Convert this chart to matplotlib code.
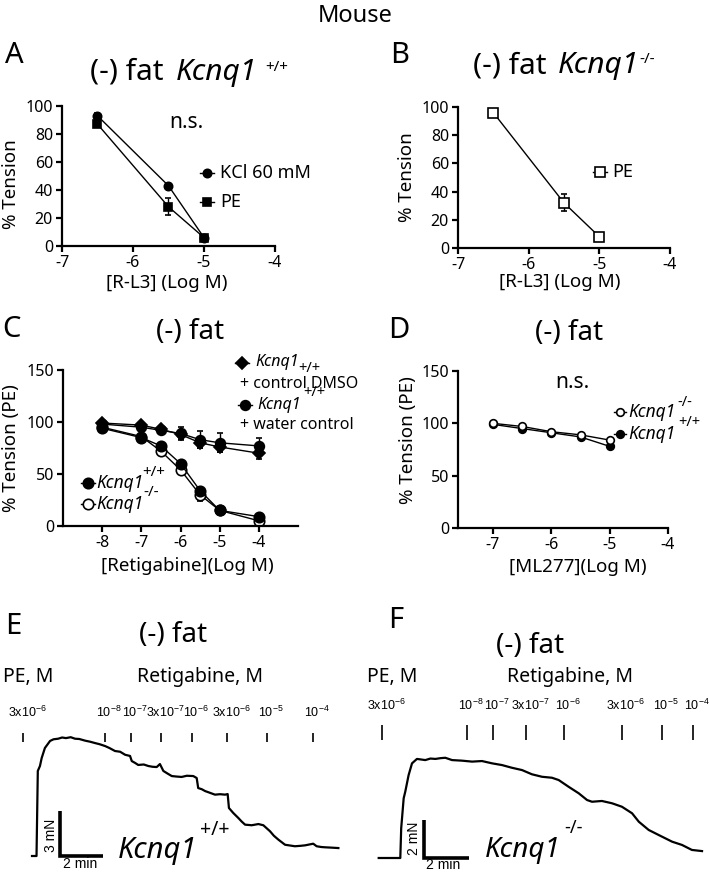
import matplotlib
matplotlib.use("Agg")
import matplotlib.pyplot as plt
from matplotlib.lines import Line2D

W, H = 709, 877

# --- dose response data (% tension) ---
rl3_x = [-6.5, -5.5, -5.0]
a_kcl = [93, 43, 6]
a_kcl_err = [2, 2, 1]
a_pe = [87, 28, 6]
a_pe_err = [2, 6, 1]
b_pe = [96, 32, 8]
b_pe_err = [1, 6, 1]

ret_x = [-8, -7, -6.5, -6, -5.5, -5, -4]
c_dmso = [99, 97, 93, 88, 80, 76, 70]
c_dmso_err = [2, 2, 3, 4, 5, 5, 6]
c_water = [98, 95, 92, 89, 83, 80, 77]
c_water_err = [2, 3, 3, 6, 8, 9, 8]
c_wt = [94, 85, 77, 60, 34, 15, 9]
c_wt_err = [1, 2, 2, 2, 3, 2, 2]
c_ko = [95, 86, 72, 54, 30, 15, 5]
c_ko_err = [1, 2, 2, 3, 6, 2, 2]

ml_x = [-7, -6.5, -6, -5.5, -5]
d_ko = [100, 97, 92, 89, 84]
d_wt = [99, 95, 91, 87, 78]

# --- force traces (min, mN) ---
e_t = [0, 0.21, 0.27, 0.37, 0.45, 0.6, 0.84, 1.0, 1.22, 1.4, 1.58, 1.8, 2.0, 2.2, 2.47, 2.7,
       2.93, 3.15, 3.4, 3.6, 3.86, 4.1, 4.33, 4.56, 4.64, 4.8, 4.94, 5.2, 5.41, 5.6, 5.8, 5.95,
       6.11, 6.3, 6.5, 6.7, 6.96, 7.2, 7.5, 7.66, 7.73, 7.9, 8.05, 8.3, 8.51, 8.75, 8.98, 9.1,
       9.16, 9.36, 9.6, 9.75, 9.91, 10.22, 10.53, 10.76, 11.07, 11.25, 11.46, 11.77, 12.0,
       12.23, 12.5, 12.7, 13.08, 13.24, 13.45, 13.63, 13.9, 14.25]
e_f = [0, 0, 5.67, 6.0, 6.53, 7.2, 7.67, 7.78, 7.82, 7.9, 7.86, 7.92, 7.82, 7.8, 7.69, 7.62,
       7.53, 7.45, 7.33, 7.2, 7.0, 6.95, 6.75, 6.67, 6.33, 6.2, 6.07, 6.1, 6.0, 5.95, 5.93, 6.13,
       5.67, 5.5, 5.33, 5.3, 5.27, 5.35, 5.33, 5.2, 4.53, 4.45, 4.33, 4.2, 4.09, 4.12, 4.09, 4.13,
       3.2, 2.87, 2.53, 2.3, 2.09, 2.05, 2.13, 2.05, 1.65, 1.35, 1.09, 0.75, 0.7,
       0.65, 0.68, 0.71, 0.82, 0.65, 0.6, 0.58, 0.56, 0.53]
f_t = [0, 0.96, 1.0, 1.11, 1.18, 1.33, 1.48, 1.7, 2.07, 2.3, 2.52, 2.75, 2.96, 3.26, 3.7,
       4.15, 4.59, 5.04, 5.48, 5.92, 6.37, 6.81, 7.26, 7.7, 8.0, 8.44, 8.89, 9.26, 9.48, 9.92,
       10.37, 10.81, 11.26, 11.56, 12.0, 12.44, 13.04, 13.48, 13.92, 14.37]
f_f = [0, 0, 1.55, 3.11, 3.45, 4.32, 4.93, 5.16, 5.1, 5.18, 5.16, 5.2, 5.22, 5.1, 5.07,
       5.02, 5.05, 4.93, 4.84, 4.7, 4.58, 4.36, 4.23, 4.18, 4.06, 3.71, 3.37, 3.02, 2.93, 2.97,
       2.85, 2.67, 2.33, 1.89, 1.46, 1.2, 0.85, 0.68, 0.42, 0.36]

e_events = [-0.42, 3.40, 4.60, 6.00, 7.43, 9.07, 10.94, 13.06]
f_events = [0.15, 3.92, 5.08, 6.55, 8.24, 10.81, 12.59, 13.97]
event_labels = [r"3x10$^{\mathregular{-6}}$", r"10$^{\mathregular{-8}}$",
                r"10$^{\mathregular{-7}}$", r"3x10$^{\mathregular{-7}}$",
                r"10$^{\mathregular{-6}}$", r"3x10$^{\mathregular{-6}}$",
                r"10$^{\mathregular{-5}}$", r"10$^{\mathregular{-4}}$"]

plt.rcParams["font.family"] = ["Noto Sans", "DejaVu Sans"]
plt.rcParams["axes.unicode_minus"] = False

fig = plt.figure(figsize=(W / 100, H / 100), dpi=100)


def ftext(x, y, s, **kw):
    kw.setdefault("va", "center")
    fig.text(x / W, 1 - y / H, s, **kw)


def add_axes_px(x0, y0, x1, y1):
    return fig.add_axes([x0 / W, 1 - y1 / H, (x1 - x0) / W, (y1 - y0) / H])


def handle(x, y, marker, filled, ms=6.5, half=7):
    fig.add_artist(Line2D([(x - half) / W, (x + half) / W], [1 - y / H] * 2,
                          transform=fig.transFigure, color="k", lw=1))
    fig.add_artist(Line2D([x / W], [1 - y / H], transform=fig.transFigure, marker=marker,
                          ms=ms, mfc="k" if filled else "white", mec="k", mew=1.2, ls="none"))


def style(ax):
    for s in ["top", "right"]:
        ax.spines[s].set_visible(False)
    for s in ["left", "bottom"]:
        ax.spines[s].set_linewidth(1.6)
    ax.tick_params(direction="out", length=4, width=1.6, labelsize=11.5, pad=2.5)


def curve(ax, x, y, err, marker, filled, ms):
    ax.errorbar(x, y, yerr=err, color="k", lw=1, marker=marker, ms=ms,
                mfc="k" if filled else "white", mec="k", mew=1.2,
                ecolor="k", elinewidth=1, capsize=2.5, capthick=1)


ftext(355, 16, "Mouse", ha="center", fontsize=17)

# ---------- A ----------
ftext(5, 63, "A", va="baseline", fontsize=21)
ftext(90, 80, "(-) fat", va="baseline", fontsize=21.5)
ftext(176, 80, "Kcnq1", va="baseline", fontsize=21.5, fontstyle="italic")
ftext(265, 71, "+/+", va="baseline", fontsize=11)
ax = add_axes_px(62, 106, 275, 246)
curve(ax, rl3_x, a_kcl, a_kcl_err, "o", True, 6)
curve(ax, rl3_x, a_pe, a_pe_err, "s", True, 5.5)
ax.set_xlim(-7, -4)
ax.set_ylim(0, 100)
ax.set_xticks([-7, -6, -5, -4])
ax.set_yticks([0, 20, 40, 60, 80, 100])
style(ax)
ax.set_ylabel("% Tension", fontsize=13.5)
ax.set_xlabel("[R-L3] (Log M)", fontsize=13.5)
ax.yaxis.set_label_coords(-0.197, 0.44)
ax.xaxis.set_label_coords(0.49, -0.2)
ftext(186, 123, "n.s.", ha="center", fontsize=15)
handle(207, 173, "o", True, ms=6)
handle(207, 202, "s", True, ms=5.5)
ftext(220, 173, "KCl 60 mM", fontsize=13)
ftext(220, 202, "PE", fontsize=13)

# ---------- B ----------
ftext(390, 63, "B", va="baseline", fontsize=21)
ftext(473, 73, "(-) fat", va="baseline", fontsize=21.5)
ftext(558, 73, "Kcnq1", va="baseline", fontsize=21.5, fontstyle="italic")
ftext(639, 63, "-/-", va="baseline", fontsize=11)
ax = add_axes_px(458, 107, 670, 248)
curve(ax, rl3_x, b_pe, b_pe_err, "s", False, 7)
ax.set_xlim(-7, -4)
ax.set_ylim(0, 100)
ax.set_xticks([-7, -6, -5, -4])
ax.set_yticks([0, 20, 40, 60, 80, 100])
style(ax)
ax.set_ylabel("% Tension", fontsize=13.5)
ax.set_xlabel("[R-L3] (Log M)", fontsize=13.5)
ax.yaxis.set_label_coords(-0.198, 0.5)
ax.xaxis.set_label_coords(0.48, -0.177)
handle(600, 172, "s", False, ms=7)
ftext(612, 172, "PE", fontsize=13)

# ---------- C ----------
ftext(2, 337, "C", va="baseline", fontsize=21)
ftext(190, 339, "(-) fat", ha="center", va="baseline", fontsize=20)
ax = add_axes_px(63, 370, 298, 526)
curve(ax, ret_x, c_dmso, c_dmso_err, "D", True, 6)
curve(ax, ret_x, c_water, c_water_err, "o", True, 7)
curve(ax, ret_x, c_ko, c_ko_err, "o", False, 7.5)
curve(ax, ret_x, c_wt, c_wt_err, "o", True, 7.5)
ax.set_xlim(-9, -3)
ax.set_ylim(0, 150)
ax.set_xticks([-8, -7, -6, -5, -4])
ax.set_yticks([0, 50, 100, 150])
style(ax)
ax.set_ylabel("% Tension (PE)", fontsize=13.5)
ax.set_xlabel("[Retigabine](Log M)", fontsize=13.5)
ax.yaxis.set_label_coords(-0.183, 0.5)
ax.xaxis.set_label_coords(0.53, -0.199)
handle(242, 363, "D", True, ms=6)
ftext(255, 362, "Kcnq1", fontsize=11.5, fontstyle="italic")
ftext(298, 368, "+/+", fontsize=10.5)
ftext(240, 384, "+ control DMSO", fontsize=11.5)
handle(245, 405, "o", True, ms=7)
ftext(257, 405, "Kcnq1", fontsize=11.5, fontstyle="italic")
ftext(303, 392, "+/+", fontsize=10.5)
ftext(240, 425, "+ water control", fontsize=11.5)
handle(88, 483, "o", True, ms=7.5)
ftext(96, 483, "Kcnq1", fontsize=12.5, fontstyle="italic")
ftext(142, 472, "+/+", fontsize=11)
handle(88, 504, "o", False, ms=7.5)
ftext(96, 504, "Kcnq1", fontsize=12.5, fontstyle="italic")
ftext(143, 493, "-/-", fontsize=11)

# ---------- D ----------
ftext(388, 338, "D", va="baseline", fontsize=21)
ftext(569, 340, "(-) fat", ha="center", va="baseline", fontsize=20)
ax = add_axes_px(458, 371, 668, 528)
curve(ax, ml_x, d_wt, None, "o", True, 5.5)
curve(ax, ml_x, d_ko, None, "o", False, 5.5)
ax.set_xlim(-7.6, -4)
ax.set_ylim(0, 150)
ax.set_xticks([-7, -6, -5, -4])
ax.set_yticks([0, 50, 100, 150])
style(ax)
ax.set_ylabel("% Tension (PE)", fontsize=13.5)
ax.set_xlabel("[ML277](Log M)", fontsize=13.5)
ax.yaxis.set_label_coords(-0.195, 0.56)
ax.xaxis.set_label_coords(0.57, -0.19)
ftext(572, 382, "n.s.", ha="center", fontsize=15)
handle(620, 412, "o", False, ms=5.5, half=6)
ftext(628, 412, "Kcnq1", fontsize=12.5, fontstyle="italic")
ftext(677, 402, "-/-", fontsize=10.5)
handle(620, 434, "o", True, ms=5.5, half=6)
ftext(628, 434, "Kcnq1", fontsize=12.5, fontstyle="italic")
ftext(678, 423, "+/+", fontsize=10.5)


# ---------- E / F traces ----------
def trace_panel(box, t0_px, base_px, ppm, ppn, t, f, events, tick_px, lab_px, bar_t, bar_mn):
    x0, y0, x1, y1 = box
    ax = add_axes_px(x0, y0, x1, y1)
    ax.set_xlim((x0 - t0_px) / ppm, (x1 - t0_px) / ppm)
    ax.set_ylim((base_px - y1) / ppn, (base_px - y0) / ppn)
    ax.axis("off")
    ax.plot(t, f, color="k", lw=1.6, solid_joinstyle="round")
    lo = (base_px - tick_px[1]) / ppn
    hi = (base_px - tick_px[0]) / ppn
    ax.vlines(events, lo, hi, color="k", lw=1.2)
    ly = (base_px - lab_px) / ppn
    for ev, lab in zip(events, event_labels):
        ax.text(ev + 4 / ppm, ly, lab, ha="center", va="center", fontsize=9,
                family="Liberation Sans")
    ax.plot([bar_t + 2, bar_t, bar_t], [0, 0, bar_mn], color="k", lw=2.6,
            solid_joinstyle="miter", solid_capstyle="butt", clip_on=False)
    return ax


ftext(5, 634, "E", va="baseline", fontsize=21)
ftext(173, 642, "(-) fat", ha="center", va="baseline", fontsize=20)
ftext(3, 682, "PE, M", va="baseline", fontsize=14)
ftext(137, 682, "Retigabine, M", va="baseline", fontsize=14)
trace_panel((5, 700, 350, 872), 32, 856, 21.5, 15, e_t, e_f, e_events, (733, 742), 712, 1.3, 3)
ftext(51, 835, "3 mN", ha="center", rotation=90, fontsize=10, family="Liberation Sans")
ftext(80, 864, "2 min", ha="center", fontsize=10, family="Liberation Sans")
ftext(118, 858, "Kcnq1", va="baseline", fontsize=21, fontstyle="italic")
ftext(200, 830, "+/+", fontsize=14)

ftext(388, 628, "F", va="baseline", fontsize=21)
ftext(530, 653, "(-) fat", ha="center", va="baseline", fontsize=20)
ftext(367, 682, "PE, M", va="baseline", fontsize=14)
ftext(507, 682, "Retigabine, M", va="baseline", fontsize=14)
trace_panel((365, 700, 709, 872), 378.7, 858, 22.5, 19.2, f_t, f_f, f_events, (725, 740), 705, 2.0, 2)
ftext(414, 838, "2 mN", ha="center", rotation=90, fontsize=10, family="Liberation Sans")
ftext(443, 865, "2 min", ha="center", fontsize=10, family="Liberation Sans")
ftext(485, 857, "Kcnq1", va="baseline", fontsize=20, fontstyle="italic")
ftext(564, 828, "-/-", fontsize=13)

fig.savefig("out.png", dpi=100)
